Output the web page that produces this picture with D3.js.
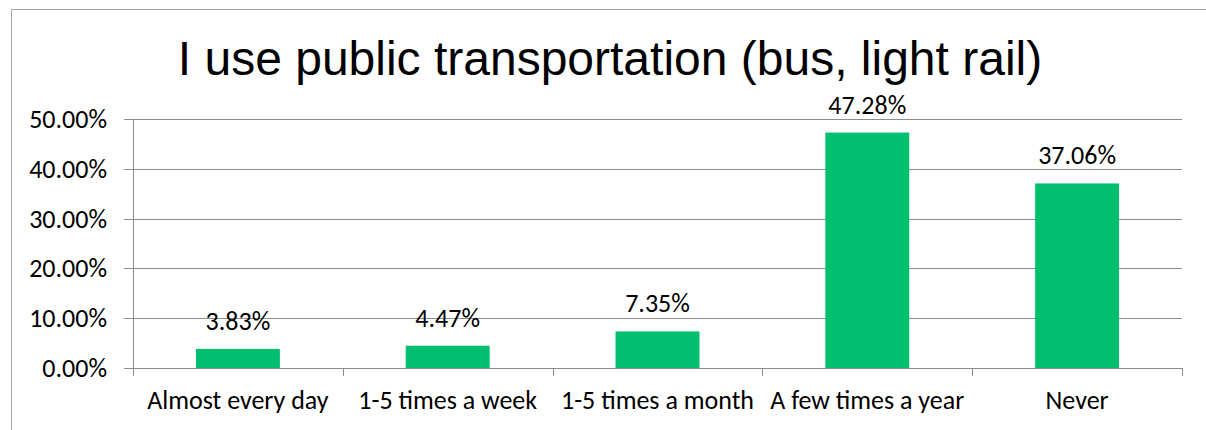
<!DOCTYPE html>
<meta charset="utf-8">
<script src="https://cdn.jsdelivr.net/npm/d3@7"></script>
<style>
	body{margin:0;background:#fff;}
	.lbl{font-family:Carlito,Lato,"Open Sans",sans-serif;font-size:26px;fill:#000;}
	.title{font-family:"Liberation Sans",Arial,sans-serif;font-size:48px;fill:#000;}
</style>
<div id="chart"></div>
<script>
var categories = ["Almost every day","1-5 times a week","1-5 times a month","A few times a year","Never"]
var values = [3.83, 4.47, 7.35, 47.28, 37.06]
var yTicks = [0, 10, 20, 30, 40, 50]
var titleText = "I use public transportation (bus, light rail)"

var width = 1206
var height = 430
var margin = {left:133, right:24, top:119, bottom:62}

var svg = d3.select("#chart").append("svg")
	.attr("width",width)
	.attr("height",height)

// outer chart frame
svg.append("rect")
	.attr("x",11.5).attr("y",9.5)
	.attr("width",width).attr("height",height)
	.attr("fill","none")
	.attr("stroke","#a6a6a6")
	.attr("stroke-width",1)

svg.append("text")
	.attr("class","title")
	.attr("x",610).attr("y",75)
	.attr("text-anchor","middle")
	.text(titleText)

var x = d3.scaleBand()
	.domain(categories)
	.range([margin.left, width-margin.right])
	.paddingInner(0.6)
	.paddingOuter(0.3)

var xOuter = d3.scaleBand()
	.domain(categories)
	.range([margin.left, width-margin.right])

var y = d3.scaleLinear()
	.domain([0,50])
	.range([height-margin.bottom, margin.top])

// gridlines + y ticks
var grid = svg.append("g")
grid.selectAll("line")
	.data(yTicks)
	.enter()
	.append("line")
	.attr("x1",margin.left-9)
	.attr("x2",width-margin.right)
	.attr("y1",function(d){return Math.round(y(d))+0.5})
	.attr("y2",function(d){return Math.round(y(d))+0.5})
	.attr("stroke","#8c8c8c")
	.attr("stroke-width",1)

svg.append("g").selectAll("text")
	.data(yTicks)
	.enter()
	.append("text")
	.attr("class","lbl")
	.attr("x",107)
	.attr("y",function(d){return y(d)+9})
	.attr("text-anchor","end")
	.text(function(d){return d.toFixed(2)+"%"})

// y axis line
svg.append("line")
	.attr("x1",margin.left+0.5).attr("x2",margin.left+0.5)
	.attr("y1",y(50)).attr("y2",y(0))
	.attr("stroke","#8c8c8c")

// x ticks
var xTickPos = categories.map(function(c){return xOuter(c)}).concat([width-margin.right])
svg.append("g").selectAll("line")
	.data(xTickPos)
	.enter()
	.append("line")
	.attr("x1",function(d){return Math.round(d)+0.5})
	.attr("x2",function(d){return Math.round(d)+0.5})
	.attr("y1",y(0))
	.attr("y2",y(0)+8)
	.attr("stroke","#8c8c8c")

// bars
svg.append("g").selectAll("rect")
	.data(values)
	.enter()
	.append("rect")
	.attr("x",function(d,i){return x(categories[i])})
	.attr("width",x.bandwidth())
	.attr("y",function(d){return y(d)})
	.attr("height",function(d){return y(0)-y(d)})
	.attr("fill","#00bf6f")

// value labels
svg.append("g").selectAll("text")
	.data(values)
	.enter()
	.append("text")
	.attr("class","lbl")
	.attr("x",function(d,i){return xOuter(categories[i])+xOuter.bandwidth()/2})
	.attr("y",function(d){return y(d)-19})
	.attr("text-anchor","middle")
	.text(function(d){return d.toFixed(2)+"%"})

// category labels
svg.append("g").selectAll("text")
	.data(categories)
	.enter()
	.append("text")
	.attr("class","lbl")
	.attr("x",function(d){return xOuter(d)+xOuter.bandwidth()/2})
	.attr("y",409)
	.attr("text-anchor","middle")
	.text(function(d){return d})
</script>
